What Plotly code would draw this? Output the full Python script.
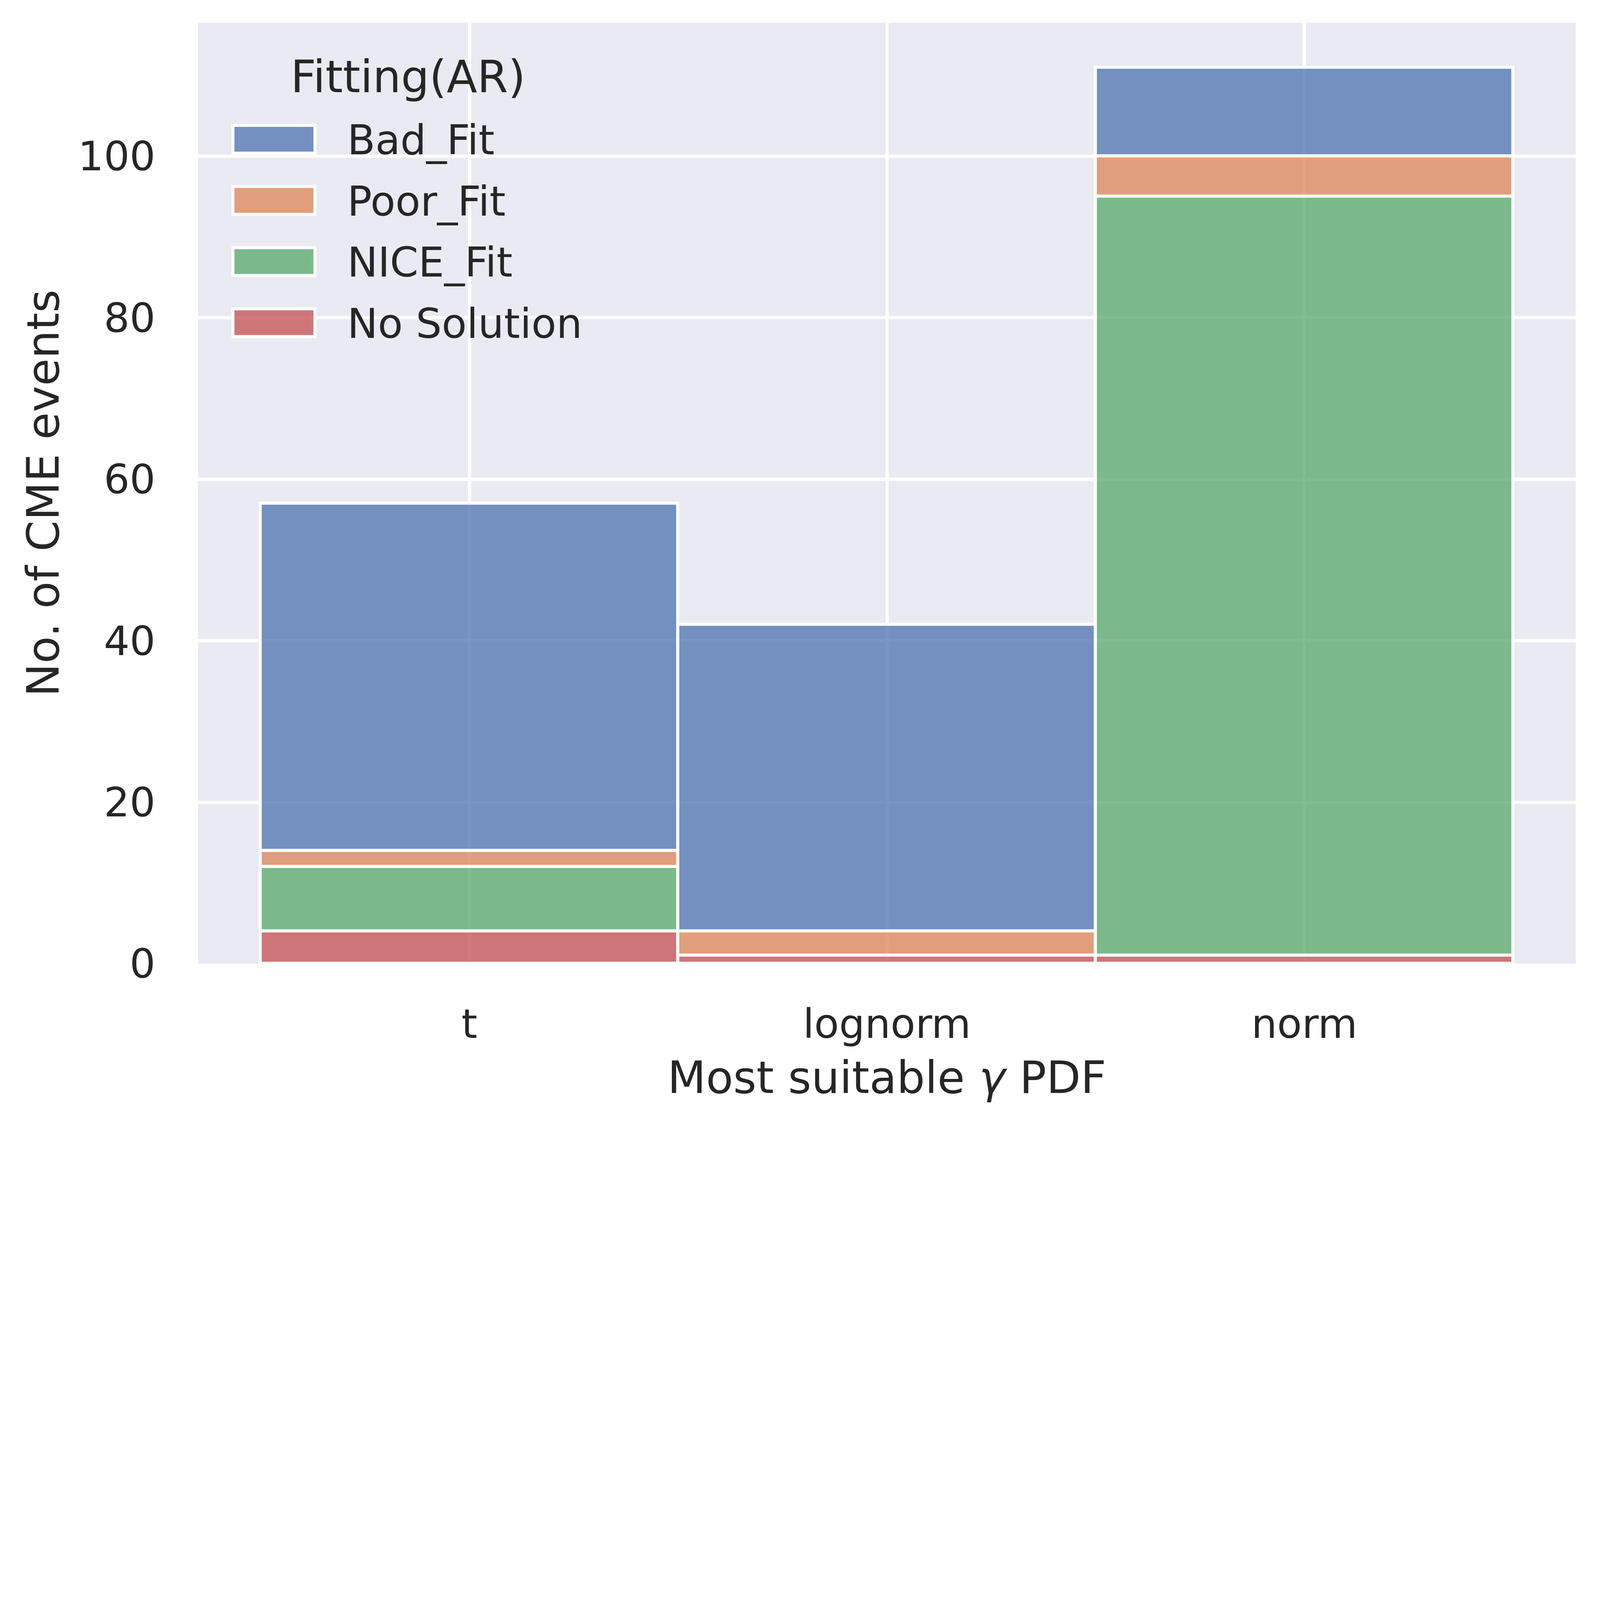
import plotly.graph_objects as go

# ---- data ----
categories = ["t", "lognorm", "norm"]
series_names = ["Bad_Fit", "Poor_Fit", "NICE_Fit", "No Solution"]
bad_fit = [43, 38, 11]
poor_fit = [2, 3, 5]
nice_fit = [8, 0, 94]
no_solution = [4, 1, 1]
y_ticks = [0, 20, 40, 60, 80, 100]

# ---- styling ----
# reference is 6462x4542; the browser viewport is 4096 wide, so scale everything down
REF_W, REF_H = 6462, 4542
S = 4096 / REF_W


def s(v):
    return v * S


def si(v):
    return int(round(v * S))


W, H = si(REF_W), si(REF_H)
L, R, T, B = s(800), s(98), s(91), s(650)
colors = {
    "Bad_Fit": "rgba(76,114,176,0.75)",
    "Poor_Fit": "rgba(221,132,82,0.75)",
    "NICE_Fit": "rgba(85,168,104,0.75)",
    "No Solution": "rgba(196,78,82,0.75)",
}
values = {
    "Bad_Fit": bad_fit,
    "Poor_Fit": poor_fit,
    "NICE_Fit": nice_fit,
    "No Solution": no_solution,
}
FONT = "DejaVu Sans"
TXT = "#262626"
TICK_SIZE = s(164)
LEGEND_SIZE = s(165)
LABEL_SIZE = s(180)
EDGE = s(12)
GRID = s(12.5)

fig = go.Figure()
# seaborn stacks the last hue level at the bottom
for name in reversed(series_names):
    fig.add_trace(go.Bar(
        x=categories, y=values[name], name=name,
        marker=dict(color=colors[name], line=dict(color="white", width=EDGE)),
        showlegend=False,
    ))

pw = s(REF_W - 800 - 98)
ph = s(REF_H - 91 - 650)


def px_x(p):  # reference pixel -> paper
    return (s(p) - L) / pw


def px_y(p):
    return (s(REF_H - 650) - s(p)) / ph


# legend drawn seaborn-style with large patches
shapes = []
annotations = []
row0, row_step = 562, 247
for i, name in enumerate(series_names):
    cy = row0 + i * row_step
    shapes.append(dict(
        type="rect", xref="paper", yref="paper",
        x0=px_x(941), x1=px_x(1272), y0=px_y(cy + 56), y1=px_y(cy - 56),
        fillcolor=colors[name], line=dict(color="white", width=EDGE), layer="above",
    ))
    annotations.append(dict(
        xref="paper", yref="paper", x=px_x(1400), y=px_y(cy + 4),
        xanchor="left", yanchor="middle", text=name, showarrow=False,
        font=dict(family=FONT, size=LEGEND_SIZE, color=TXT),
    ))
annotations.append(dict(
    xref="paper", yref="paper", x=px_x(1648), y=px_y(310),
    xanchor="center", yanchor="middle", text="Fitting(AR)", showarrow=False,
    font=dict(family=FONT, size=LABEL_SIZE, color=TXT),
))

fig.update_layout(
    width=W, height=H,
    margin=dict(l=L, r=R, t=T, b=B, pad=0),
    paper_bgcolor="white", plot_bgcolor="#EAEAF2",
    barmode="stack", bargap=0,
    font=dict(family=FONT, color=TXT, size=TICK_SIZE),
    shapes=shapes, annotations=annotations,
    showlegend=False,
)
fig.update_xaxes(
    range=[-0.65, 2.65], showgrid=True, gridcolor="white", gridwidth=GRID,
    zeroline=False, showline=False, ticks="", ticklabelstandoff=si(134),
    tickfont=dict(size=TICK_SIZE, family=FONT, color=TXT),
    title=dict(text="Most suitable <i>γ</i> PDF", standoff=si(58),
               font=dict(size=LABEL_SIZE, family=FONT, color=TXT)),
    automargin=False,
)
fig.update_yaxes(
    range=[0, 116.55], tickvals=y_ticks, showgrid=True, gridcolor="white", gridwidth=GRID,
    zeroline=False, showline=False, ticks="", ticklabelstandoff=si(170),
    tickfont=dict(size=TICK_SIZE, family=FONT, color=TXT),
    title=dict(text="No. of CME events", standoff=si(16),
               font=dict(size=LABEL_SIZE, family=FONT, color=TXT)),
    automargin=False,
)

fig.write_html("out.html", config={"displayModeBar": False},
               post_script="document.body.style.margin='0px';")
